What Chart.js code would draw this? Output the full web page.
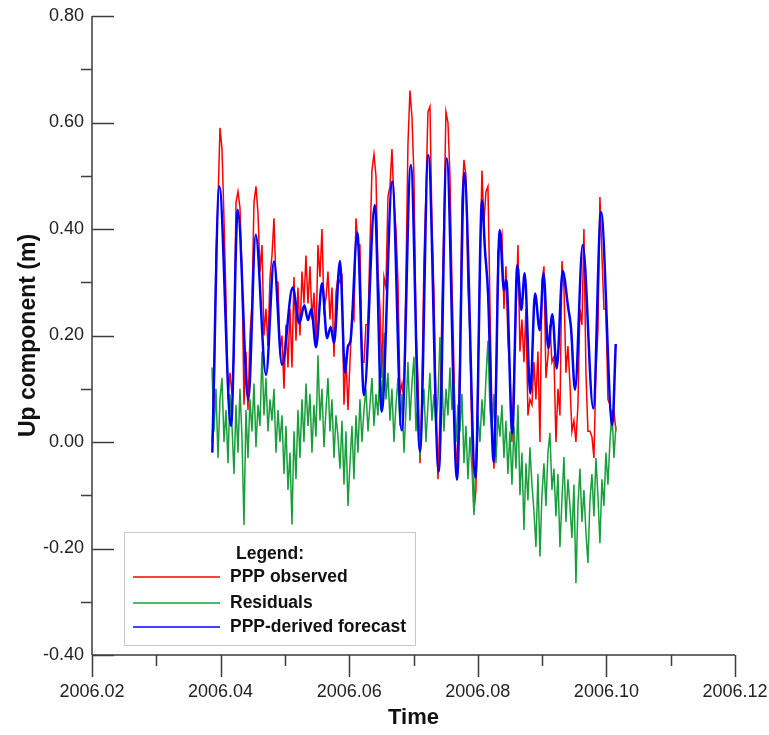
<!DOCTYPE html>
<html><head><meta charset="utf-8">
<script src="https://cdn.jsdelivr.net/npm/chart.js@4/dist/chart.umd.min.js"></script>
<style>html,body{margin:0;padding:0;background:#fff}#wrap{width:769px;height:735px;position:relative}</style>
</head><body><div id="wrap"><canvas id="c" width="769" height="735"></canvas></div>
<script>
// ---- DATA ----
const obsStart = 2006.03866;   // first epoch of observed / residual samples
const obsStep = 0.000311;      // sampling interval (years)
const observed = [
 0.00,0.07,0.35,0.45,0.59,0.55,0.42,0.27,0.08,0.13,
 0.09,0.16,0.45,0.47,0.44,0.32,0.07,0.17,0.06,0.20,
 0.26,0.45,0.48,0.43,0.32,0.37,0.20,0.25,0.18,0.31,
 0.35,0.42,0.30,0.30,0.17,0.20,0.10,0.22,0.14,0.25,
 0.14,0.31,0.19,0.29,0.20,0.32,0.26,0.35,0.26,0.33,
 0.23,0.28,0.19,0.37,0.31,0.40,0.25,0.27,0.32,0.23,
 0.29,0.16,0.28,0.31,0.30,0.31,0.07,0.16,0.06,0.15,
 0.24,0.23,0.42,0.37,0.37,0.15,0.15,0.22,0.22,0.37,
 0.51,0.54,0.50,0.32,0.25,0.12,0.31,0.29,0.46,0.48,
 0.55,0.45,0.40,0.30,0.09,0.11,0.08,0.31,0.56,0.66,
 0.61,0.50,0.21,0.12,-0.04,0.10,0.34,0.47,0.62,0.63,
 0.41,0.28,0.07,-0.07,0.05,0.25,0.42,0.62,0.60,0.50,
 0.30,0.14,-0.06,0.01,0.16,0.45,0.53,0.50,0.29,0.20,
 0.00,-0.13,-0.09,0.13,0.33,0.51,0.41,0.47,0.48,0.26,
 0.05,-0.05,0.06,0.36,0.37,0.39,0.25,0.33,0.19,0.13,
 0.00,0.13,0.24,0.37,0.17,0.23,0.15,0.25,0.05,0.08,
 0.07,0.15,0.08,0.17,0.00,0.30,0.33,0.12,0.16,0.22,
 0.15,0.16,0.00,0.10,0.05,0.34,0.29,0.13,0.18,0.11,
 0.02,0.04,0.00,0.07,0.25,0.22,0.40,0.13,0.02,0.02,
 0.01,-0.03,0.13,0.21,0.46,0.35,0.25,0.25,0.08,0.07,
 0.03,0.06,0.02
];
const residuals = [
 0.14,0.02,0.10,-0.03,0.08,0.12,0.00,0.06,-0.04,0.09,
 0.03,-0.06,0.07,-0.02,0.10,0.01,-0.156,0.06,-0.03,0.08,
 0.02,0.11,-0.01,0.07,0.03,0.17,0.05,0.12,0.02,0.08,
 0.04,0.10,-0.02,0.06,0.00,0.05,-0.06,0.03,-0.09,-0.02,
 -0.155,0.02,-0.07,0.06,-0.03,0.08,0.00,0.11,0.03,0.09,
 -0.02,0.07,0.01,0.163,0.04,0.10,-0.01,0.06,0.12,0.02,
 0.08,-0.03,0.05,0.01,-0.05,0.04,-0.08,0.02,-0.12,-0.04,
 0.03,-0.07,0.05,-0.02,0.08,0.00,0.06,0.10,0.02,0.07,
 0.12,0.03,0.09,0.05,0.14,0.06,0.205,0.08,0.13,0.04,
 0.10,0.00,0.07,0.12,0.03,0.09,-0.02,0.06,0.15,0.04,
 0.11,0.16,0.02,0.08,-0.03,0.05,0.10,0.00,0.07,0.13,
 0.04,0.09,0.03,0.08,0.197,0.12,0.02,0.10,0.05,0.14,
 0.06,0.11,0.00,0.07,0.02,0.09,-0.04,0.03,-0.07,0.01,
 -0.05,-0.137,-0.03,0.05,0.00,0.08,0.03,0.12,0.19,0.06,
 0.02,0.09,-0.04,0.05,0.01,0.07,-0.03,0.04,-0.06,0.02,
 -0.08,0.03,-0.05,0.07,-0.10,-0.02,-0.165,-0.04,-0.11,-0.01,
 -0.08,-0.13,-0.197,-0.06,-0.215,-0.10,-0.04,-0.12,-0.02,0.017,
 -0.09,-0.05,-0.14,-0.06,-0.197,-0.11,-0.028,-0.15,-0.07,-0.12,
 -0.18,-0.08,-0.265,-0.12,-0.05,-0.15,-0.09,-0.17,-0.227,-0.11,
 -0.06,-0.14,-0.03,-0.10,-0.19,-0.07,-0.12,-0.02,-0.08,0.00,
 0.06,-0.03,0.03
];
const forecastTime = [
 2006.03871,2006.03980,2006.04162,2006.04266,2006.04431,2006.04546,2006.04706,2006.04830,
 2006.04955,2006.05121,2006.05224,2006.05302,2006.05359,2006.05411,2006.05484,2006.05577,
 2006.05655,2006.05712,2006.05764,2006.05857,2006.05935,2006.05981,2006.06020,2006.06126,
 2006.06230,2006.06397,2006.06505,2006.06670,2006.06817,2006.06958,2006.07101,2006.07230,
 2006.07392,2006.07516,2006.07677,2006.07790,2006.07964,2006.08065,2006.08112,2006.08159,
 2006.08247,2006.08341,2006.08407,2006.08443,2006.08537,2006.08614,2006.08677,2006.08729,
 2006.08817,2006.08890,2006.08963,2006.09022,2006.09096,2006.09159,2006.09227,2006.09320,
 2006.09407,2006.09449,2006.09512,2006.09631,2006.09796,2006.09916,2006.10092,2006.10145
];
const forecast = [
 -0.02,0.48,0.03,0.436,0.079,0.389,0.126,0.339,
 0.145,0.29,0.223,0.257,0.229,0.25,0.178,0.298,
 0.195,0.216,0.186,0.34,0.13,0.18,0.19,0.393,
 0.088,0.445,0.057,0.489,0.022,0.52,-0.018,0.539,
 -0.056,0.533,-0.071,0.505,-0.067,0.454,0.36,0.28,
 -0.037,0.398,0.285,0.304,0.016,0.332,0.248,0.317,
 0.091,0.279,0.21,0.317,0.176,0.24,0.138,0.321,
 0.251,0.215,0.098,0.37,0.063,0.432,0.032,0.184
];
const seriesNames = ['PPP observed','Residuals','PPP-derived forecast'];
const seriesColors = ['#ff0000','#1a9e3c','#0000ff'];
const xMin = 2006.02, xMax = 2006.12, xStep = 0.02;
const yMin = -0.40, yMax = 0.80, yStep = 0.20;

// ---- BUILD ----
const obsPts = observed.map((v,i)=>({x: obsStart + i*obsStep, y: v}));
const resPts = residuals.map((v,i)=>({x: obsStart + i*obsStep, y: v}));
const fcPts = forecast.map((v,i)=>({x: forecastTime[i], y: v}));

const FONT = '"Liberation Sans", Arial, Helvetica, sans-serif';
const AXIS = '#3c3c3c';

const axesPlugin = {
  id: 'axesPlugin',
  afterDatasetsDraw(chart){
    const {ctx, chartArea:a, scales:{x, y}} = chart;
    ctx.save();
    ctx.strokeStyle = AXIS; ctx.lineWidth = 1.5; ctx.lineCap = 'butt';
    ctx.beginPath();
    ctx.moveTo(a.left, a.top); ctx.lineTo(a.left, a.bottom);
    ctx.moveTo(a.left, a.bottom); ctx.lineTo(a.right, a.bottom);
    for (let k = 0; k <= 12; k++) {
      const v = yMin + k*0.1;
      const py = Math.round(y.getPixelForValue(v)) + 0.5;
      if (k % 2 === 0) { ctx.moveTo(a.left, py); ctx.lineTo(a.left + 22, py); }
      else { ctx.moveTo(a.left - 11, py); ctx.lineTo(a.left, py); }
    }
    for (let k = 0; k <= 10; k++) {
      const v = xMin + k*0.01;
      const px = Math.round(x.getPixelForValue(v)) + 0.5;
      ctx.moveTo(px, a.bottom); ctx.lineTo(px, a.bottom + (k % 2 === 0 ? 22 : 11));
    }
    ctx.stroke();
    ctx.restore();
  }
};

const legendPlugin = {
  id: 'legendBox',
  afterDraw(chart){
    const ctx = chart.ctx;
    ctx.save();
    ctx.fillStyle = '#ffffff';
    ctx.fillRect(124, 532, 291, 113);
    ctx.strokeStyle = '#c8c8c8'; ctx.lineWidth = 1;
    ctx.strokeRect(124.5, 532.5, 291, 113);
    ctx.fillStyle = '#111';
    ctx.font = 'bold 17.5px ' + FONT;
    ctx.textBaseline = 'middle';
    ctx.textAlign = 'center';
    ctx.fillText('Legend:', 270, 554);
    ctx.textAlign = 'left';
    const ys = [577, 603, 627];
    seriesNames.forEach((n,i)=>{
      ctx.strokeStyle = seriesColors[i]; ctx.lineWidth = 1.5;
      ctx.beginPath(); ctx.moveTo(133, ys[i]); ctx.lineTo(220, ys[i]); ctx.stroke();
      ctx.fillStyle = '#111';
      ctx.fillText(n, 230, ys[i]);
    });
    ctx.restore();
  }
};

new Chart(document.getElementById('c'), {
  type: 'line',
  data: { datasets: [
    { label: seriesNames[0], data: obsPts, borderColor: seriesColors[0], borderWidth: 1.5, pointRadius: 0, tension: 0, order: 3 },
    { label: seriesNames[1], data: resPts, borderColor: seriesColors[1], borderWidth: 1.5, pointRadius: 0, tension: 0, order: 2 },
    { label: seriesNames[2], data: fcPts, borderColor: seriesColors[2], borderWidth: 2.5, pointRadius: 0, cubicInterpolationMode: 'monotone', order: 1 }
  ]},
  options: {
    responsive: false, animation: false, devicePixelRatio: 1,
    layout: { padding: { top: 16, right: 34, left: 0, bottom: 0 } },
    plugins: { legend: { display: false }, tooltip: { enabled: false } },
    scales: {
      x: {
        type: 'linear', min: xMin, max: xMax,
        ticks: { stepSize: xStep, autoSkip: false, maxRotation: 0, padding: 26,
                 color: '#222', font: { family: FONT, size: 18 },
                 callback: v => Number(v).toFixed(2) },
        grid: { display: false, drawTicks: false }, border: { display: false },
        title: { display: true, text: 'Time', color: '#111', font: { family: FONT, size: 22, weight: 'bold' }, padding: { top: 0, bottom: 4 } },
        afterFit: s => { s.height = 80; s.paddingLeft = 0; s.paddingRight = 0; }
      },
      y: {
        type: 'linear', min: yMin, max: yMax,
        ticks: { stepSize: yStep, padding: 8, color: '#222', font: { family: FONT, size: 18 },
                 callback: v => Number(v).toFixed(2) },
        grid: { display: false, drawTicks: false }, border: { display: false },
        title: { display: true, text: 'Up component (m)', color: '#111', font: { family: FONT, size: 23, weight: 'bold' }, padding: { top: 15, bottom: 0 } },
        afterFit: s => { s.width = 92; s.paddingTop = 0; s.paddingBottom = 0; }
      }
    }
  },
  plugins: [axesPlugin, legendPlugin]
});
</script></body></html>
